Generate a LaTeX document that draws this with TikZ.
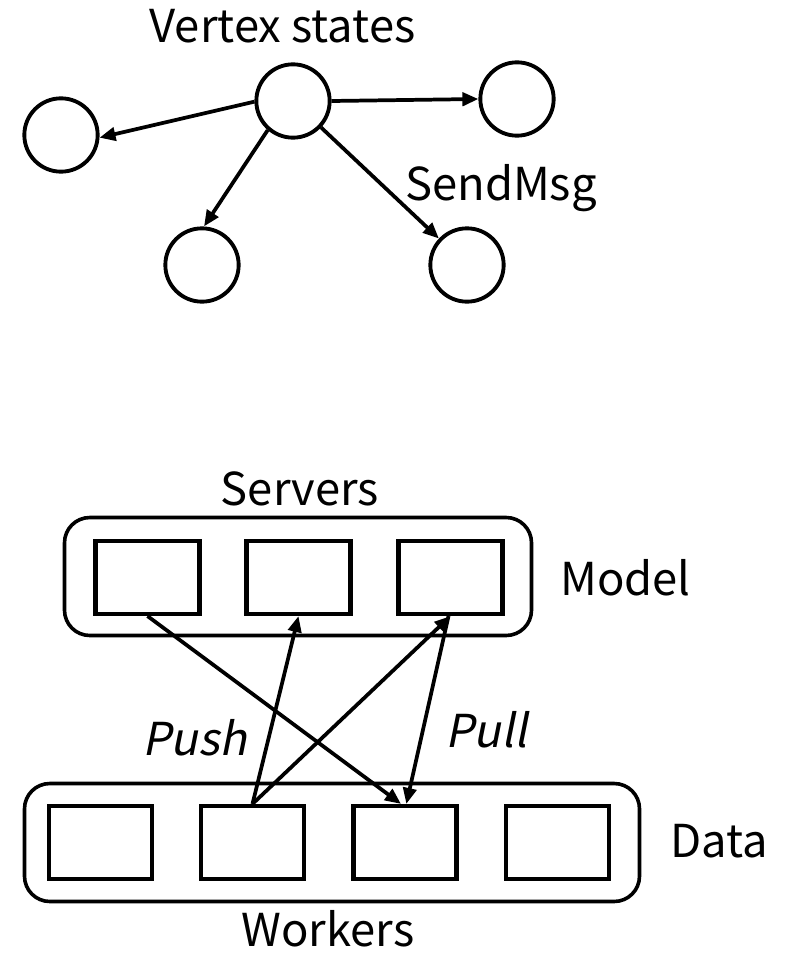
\documentclass[tikz,border=0pt]{standalone}
\usepackage{fontspec}
\setmainfont{Noto Sans CJK SC}
\newfontfamily\slantfont[FakeSlant=0.2]{Noto Sans CJK SC}
\usetikzlibrary{arrows.meta,calc}
\tikzset{
  vtx/.style={circle,draw,line width=2.9pt,minimum size=55pt,inner sep=0pt},
  sbox/.style={rectangle,draw,line width=3.1pt,minimum width=78pt,minimum height=54.75pt,inner sep=0pt},
  wbox/.style={rectangle,draw,line width=3.1pt,minimum width=77.25pt,minimum height=54.75pt,inner sep=0pt},
  outerbox/.style={draw,line width=2.7pt,rounded corners=19pt},
  conn/.style={line width=2.8pt,-{Triangle[length=12pt,width=10pt]}},
  lbl/.style={inner sep=0pt,font=\fontsize{34}{38}\selectfont},
  slbl/.style={inner sep=0pt,font=\fontsize{34}{38}\slantfont}
}
\begin{document}
\begin{tikzpicture}[x=0.75pt,y=-0.75pt]
\useasboundingbox (0,0) rectangle (789,956);
% top graph
\node[vtx] (c)  at (293,101) {};
\node[vtx] (l)  at (61,135) {};
\node[vtx] (tr) at (517,99) {};
\node[vtx] (bl) at (202,265) {};
\node[vtx] (br) at (467,265) {};
\node[lbl,anchor=base] (vs) at (282.5,43) {Vertex states};
\node[lbl,anchor=base west] (sm) at (405,200) {SendMsg};
\draw[conn] (c.181) -- (l.356);
\draw[conn] (c.east) -- (tr.west);
\draw[conn] (c.229) -- (bl.87);
\draw[conn] (c) -- (br);
% servers
\draw[outerbox] (64.5,517.5) rectangle (531.5,635.5);
\node[sbox] (s1) at (147.5,577.5) {};
\node[sbox] (s2) at (298.5,577.5) {};
\node[sbox] (s3) at (450.5,577.5) {};
\node[lbl,anchor=base] (srv) at (300,505) {Servers};
\node[lbl,anchor=base west] (mdl) at (560,595) {Model};
% workers
\draw[outerbox] (24.5,783.5) rectangle (639.5,901.5);
\node[wbox] (w1) at (100.5,842.5) {};
\node[wbox] (w2) at (252.5,842.5) {};
\node[wbox] (w3) at (405,842.5) {};
\node[wbox] (w4) at (557.5,842.5) {};
\node[lbl,anchor=base] (wrk) at (328,946) {Workers};
\node[lbl,anchor=base west] (dat) at (670,857) {Data};
% push / pull
\draw[conn] (s1.south) -- ([xshift=-3pt]w3.north);
\draw[conn] (w2.north) -- (s2.south);
\draw[conn] (w2.north) -- (s3.south);
\draw[conn] ([xshift=-1.5pt]s3.south) -- ([xshift=1pt]w3.north);
\node[slbl,anchor=base west] (psh) at (142,755) {Push};
\node[slbl,anchor=base west] (pll) at (445,747) {Pull};
\end{tikzpicture}
\end{document}
